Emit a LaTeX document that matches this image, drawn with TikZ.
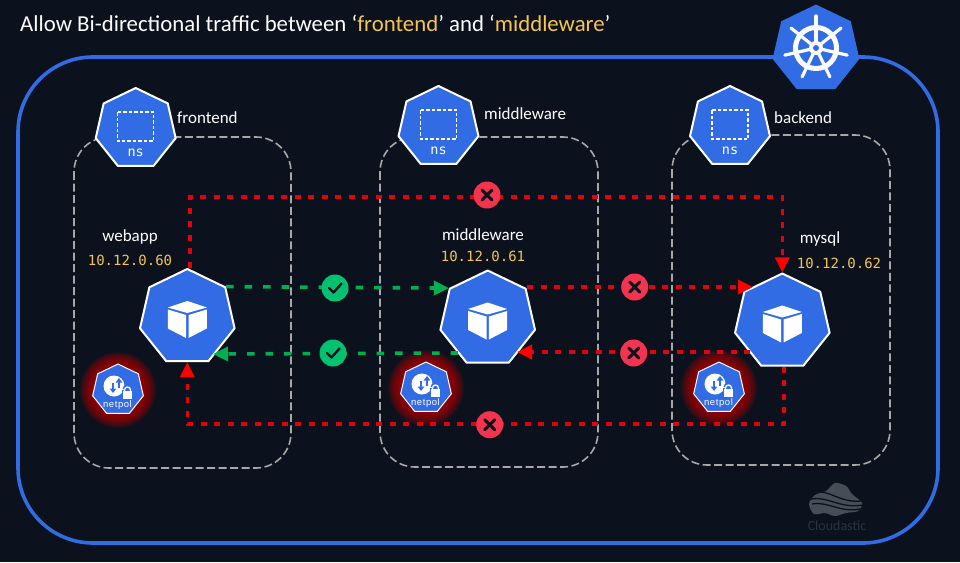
\documentclass[tikz,border=0pt]{standalone}
\usepackage{fontspec}
\setmainfont{Carlito}
\newfontfamily\digitfont{DejaVu Sans Mono}
\newfontfamily\polfont[LetterSpace=6]{Liberation Sans}
\usetikzlibrary{shapes.geometric,arrows.meta}
\definecolor{bgdark}{HTML}{0B121E}
\definecolor{kubeblue}{HTML}{326CE5}
\definecolor{zonegray}{HTML}{A8A8A8}
\definecolor{ipgold}{HTML}{F5C451}
\definecolor{allowgreen}{HTML}{00B050}
\definecolor{denyred}{HTML}{E00010}
\definecolor{okbadge}{HTML}{03C26F}
\definecolor{nobadge}{HTML}{F4344F}
\definecolor{marklogo}{HTML}{474D57}
\definecolor{marktext}{HTML}{2C323D}
\tikzset{
  hept/.style={regular polygon,regular polygon sides=7,inner sep=0pt,fill=kubeblue,line join=round},
  podhept/.style={hept,draw=white,line width=2pt,minimum size=97pt},
  nshept/.style={hept,draw=white,line width=2pt,minimum size=82pt},
  polhept/.style={hept,draw=white,line width=1pt,minimum size=52pt},
  glowdisc/.style={circle,inner sep=0pt,fill=red!70!black,fill opacity=.11},
  zone/.style={draw=zonegray,line width=1.6pt,rounded corners=35pt,dash pattern=on 8pt off 3.5pt},
  allowline/.style={draw=allowgreen,line width=3.6pt,dash pattern=on 7.5pt off 11pt},
  denyline/.style={draw=denyred,line width=3.4pt,dash pattern=on 6pt off 7.5pt},
  redhead/.style={-{Triangle[length=15pt,width=14pt,color=red]}},
  okdot/.style={circle,fill=okbadge,inner sep=0pt,minimum size=27pt},
  nodot/.style={circle,fill=nobadge,inner sep=0pt,minimum size=27pt},
  name label/.style={text=white,font=\fontsize{17}{20}\selectfont,inner sep=0pt},
  ip label/.style={text=ipgold,font=\digitfont\fontsize{14}{17}\selectfont,inner sep=0pt}
}
\begin{document}
\begin{tikzpicture}[x=1pt,y=-1pt,>={Triangle[length=15pt,width=14pt]}]
\fill[bgdark] (0,0) rectangle (960,562);
\useasboundingbox (0,0) rectangle (960,562);
% Title
\node[anchor=base west,text=white,inner sep=0pt,font=\fontsize{22.8}{27}\selectfont] (title) at (20,31.5) {Allow Bi-directional traffic between ‘\textcolor{ipgold}{frontend}’ and ‘\textcolor{ipgold}{middleware}’};
% Cluster
\draw[kubeblue,line width=3.6pt,rounded corners=75pt] (18,57) rectangle (938,543);
\node[hept,minimum size=89pt] (kube) at (816,49) {};
\foreach \a in {-90,-38.57,12.86,64.29,115.71,167.14,218.57}{\draw[white,line width=3.2pt,line cap=round] (kube.center) ++(0,-1) -- ++(\a:32);}
\draw[white,line width=5pt] (kube.center) ++(0,-1) circle (20.5);
\fill[white] (kube.center) ++(0,-1) circle (7);
\fill[kubeblue] (kube.center) ++(0,-1) circle (3);
% Namespaces
\draw[zone] (74,137) rectangle (291,468);
\draw[zone] (380,137) rectangle (598,467);
\draw[zone] (672,135) rectangle (890,465);
% Glow of the policies
\foreach \px/\py in {118/390,426/388,719/388}{
  \foreach \g in {52,54,...,76}{\node[glowdisc,minimum size=\g pt] (glow\px\g) at (\px,\py) {};}
}
% Pods
\foreach \nm/\px/\py in {webapp/187.3/317.5,middleware/487.7/319,mysql/782.3/322}{
  \node[podhept] (\nm) at (\px,\py) {};
  \begin{scope}[shift={(\px,\py)}]
  \fill[white] (0,-16.5) -- (19.5,-10) -- (0,-4.5) -- (-19.5,-10) -- cycle;
  \fill[white] (-19.5,-8) -- (-1.2,-2.5) -- (-1.2,20.5) -- (-19.5,11) -- cycle;
  \fill[white] (19.5,-8) -- (1.2,-2.5) -- (1.2,20.5) -- (19.5,11) -- cycle;
  \end{scope}
}
% Free ends
\coordinate (topL) at (190,197);
\coordinate (topR) at (782.3,197);
\coordinate (lowR) at (784,424);
\coordinate (lowL) at (187.3,424);
\coordinate (mwOut) at (527,287);
\coordinate (sqlIn) at (753,287);
\coordinate (sqlOut) at (750,352);
\coordinate (mwIn) at (517,352);
\coordinate (mwBack) at (458,353);
\coordinate (webIn) at (213,354);
% Blocked traffic
\draw[denyline,redhead] (topL |- webapp.corner 1) -- (topL) -- (topR) -- (mysql.corner 1);
\draw[denyline,redhead] (mwOut) -- (sqlIn);
\draw[denyline,redhead] (sqlOut) -- (mwIn);
\draw[denyline,redhead] (lowR |- mysql.south) -- (lowR) -- (lowL) -- (webapp.south);
% Allowed traffic
\draw[allowline,->] (webapp.corner 7) -- (middleware.corner 2);
\draw[allowline,->] (mwBack) -- (webIn);
% Namespace badges
\foreach \nm/\px/\py in {nsFrontend/135.7/129,nsMiddleware/438.5/127,nsBackend/730/127}{
  \node[nshept] (\nm) at (\px,\py) {};
  \draw[white,line width=1.5pt,dash pattern=on 3.5pt off 2pt] (\px-18,\py-17) rectangle (\px+18,\py+12);
  \node[text=white,inner sep=0pt,font=\digitfont\fontsize{13.5}{15}\selectfont] (\nm txt) at (\px,\py+24) {ns};
}
% Policy badges
\foreach \nm/\px/\py in {polWebapp/118/390,polMiddleware/426/388,polMysql/719/388}{
  \node[polhept] (\nm) at (\px,\py) {};
  \begin{scope}[shift={(\px,\py)}]
  \fill[white] (-4,-4) circle (10.5);
  \draw[kubeblue,line width=1.6pt,-{Triangle[length=4.5pt,width=6.5pt]}] (1,-2) -- (1,-12);
  \draw[kubeblue,line width=1.6pt,-{Triangle[length=4.5pt,width=6.5pt]}] (-5,-7) -- (-5,3);
  \draw[kubeblue,line width=4pt] (6.5,-.5) arc (180:360:3);
  \fill[kubeblue] (3.8,-.2) rectangle (15.2,10.5);
  \draw[white,line width=1.3pt] (6.5,1.5) -- (6.5,0) arc (180:360:3) -- (12.5,1.5);
  \fill[white] (5.3,1) rectangle (13.7,9);
  \end{scope}
  \node[text=white,inner sep=0pt,font=\polfont\fontsize{9.5}{11}\selectfont] (\nm txt) at (\px-.5,\py+15.5) {netpol};
}
% Verdicts
\foreach \nm/\px/\py in {okTo/335/288,okBack/333/353}{
  \node[okdot] (\nm) at (\px,\py) {};
  \draw[bgdark,line width=2.4pt,line cap=round,line join=round] (\px-6,\py) -- (\px-1.5,\py+4.5) -- (\px+6.5,\py-4.5);
}
\foreach \nm/\px/\py in {noTop/487/195,noTo/634.7/287,noBack/633.7/353,noLow/489.7/424.7}{
  \node[nodot] (\nm) at (\px,\py) {};
  \draw[bgdark,line width=3pt,line cap=round] (\px-5,\py-5) -- (\px+5,\py+5) (\px-5,\py+5) -- (\px+5,\py-5);
}
% Labels
\node[name label,anchor=west] (lblFrontend) at (177,118) {frontend};
\node[name label,anchor=west] (lblMiddleware) at (484,114) {middleware};
\node[name label,anchor=west] (lblBackend) at (774,118) {backend};
\node[name label] (lblWebapp) at (130,237) {webapp};
\node[name label] (lblMw) at (483,235) {middleware};
\node[name label] (lblMysql) at (820,239) {mysql};
\node[ip label] (ipWebapp) at (130,260) {10.12.0.60};
\node[ip label] (ipMw) at (483,256) {10.12.0.61};
\node[ip label] (ipMysql) at (839,263) {10.12.0.62};
% Watermark
\fill[marklogo] plot[smooth cycle] coordinates {(809,504) (815,495) (826,491) (835,483) (846,486) (852,494) (862,503) (858,511) (846,513) (835,516) (825,513) (814,514)};
\draw[bgdark,line width=1.3pt] (816,492) .. controls (830,490) and (840,503) .. (861,501);
\draw[bgdark,line width=1.3pt] (811,499) .. controls (828,496) and (840,509) .. (863,505);
\draw[bgdark,line width=1.3pt] (812,504) .. controls (828,501) and (840,513) .. (860,509);
\node[text=marktext,inner sep=0pt,font=\fontsize{14}{16}\selectfont] (markName) at (837,526) {Cloudastic};
\end{tikzpicture}
\end{document}
